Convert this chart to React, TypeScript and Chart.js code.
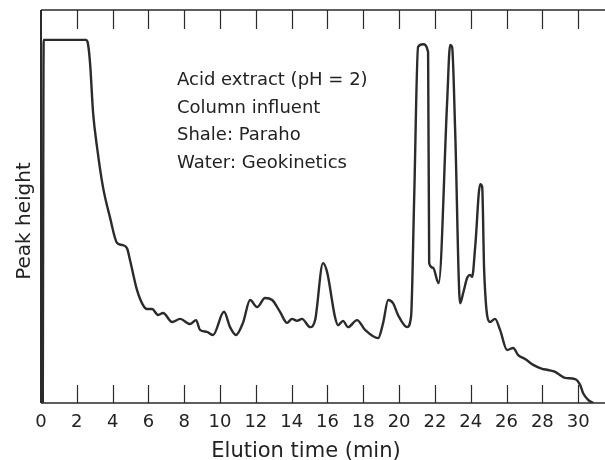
import React, { useEffect, useRef } from 'react';
import { Chart, registerables } from 'chart.js';

Chart.register(...registerables);

// Elution time (min)
const TIME = [
  0.1, 0.15, 2.51, 2.6, 2.74, 2.91, 3.13, 3.46, 3.85, 4.25, 4.53, 4.8, 4.97, 5.36, 5.7, 5.92,
  6.2, 6.54, 6.82, 7.32, 7.77, 8.32, 8.66, 8.88, 9.27, 9.61, 10.22, 10.56, 10.89, 11.28, 11.68,
  12.07, 12.51, 12.91, 13.35, 13.74, 14.02, 14.3, 14.58, 15.03, 15.31, 15.75, 15.98, 16.42,
  16.59, 16.87, 17.15, 17.65, 18.1, 18.83, 19.11, 19.39, 19.66, 19.94, 20.45, 20.67, 20.84,
  21.06, 21.34, 21.62, 21.68, 21.9, 22.12, 22.21, 22.68, 22.85, 22.96, 23.13, 23.41, 23.58,
  23.8, 23.97, 24.08, 24.25, 24.53, 24.64, 24.75, 25.08, 25.36, 25.64, 26.03, 26.37, 26.65,
  27.04, 27.49, 27.99, 28.32, 28.72, 28.99, 29.27, 29.83, 30.11, 30.28, 30.56, 30.84,
];

// Peak height (relative units, 0 = baseline, 100 = top of frame)
const SIGNAL = [
  0, 92.4, 92.4, 91.9, 86.5, 73.8, 65.1, 55.0, 47.3, 40.7, 40.2, 39.4, 36.4, 28.8, 24.9, 23.9,
  23.9, 22.4, 22.9, 20.6, 21.4, 20.1, 21.1, 18.6, 18.1, 17.3, 23.2, 19.3, 17.3, 20.4, 26.2,
  24.4, 26.7, 26.2, 23.2, 20.4, 21.4, 20.9, 21.4, 19.3, 21.1, 35.6, 33.3, 21.9,
  19.8, 20.9, 19.3, 21.1, 18.6, 16.5, 20.4, 26.2, 25.4, 22.4, 19.3, 22.1, 51.7,
  90.6, 91.3, 89.3, 35.6, 34.4, 31.3, 30.5, 76.3, 91.1, 90.6, 69.5, 25.4, 28.0,
  31.8, 32.6, 32.1, 39.7, 55.7, 55.0, 33.8, 20.6, 21.4, 18.6, 13.5, 14.0, 12.2,
  11.2, 9.7, 8.7, 8.4, 7.9, 7.1, 6.4, 6.1, 4.6, 2.5, 0.8, 0,
];

const X_TICKS = [0, 2, 4, 6, 8, 10, 12, 14, 16, 18, 20, 22, 24, 26, 28, 30];
const X_MIN = 0;
const X_MAX = 31.5;
const Y_MIN = 0;
const Y_MAX = 100;

const NOTES = ['Acid extract (pH = 2)', 'Column influent', 'Shale: Paraho', 'Water: Geokinetics'];
const X_TITLE = 'Elution time (min)';
const Y_TITLE = 'Peak height';

const FONT = '"DejaVu Sans", "Liberation Sans", sans-serif';
const INK = '#222';

const decor = {
  id: 'decor',
  afterDatasetsDraw(chart: any) {
    const { ctx, chartArea: ca, scales } = chart;
    const x = scales.x;
    ctx.save();
    ctx.strokeStyle = '#2a2a2a';
    ctx.lineCap = 'butt';

    // frame: left, top, bottom
    ctx.lineWidth = 2;
    ctx.beginPath();
    ctx.moveTo(ca.left, ca.top);
    ctx.lineTo(ca.left, ca.bottom);
    ctx.stroke();
    ctx.lineWidth = 1.5;
    ctx.beginPath();
    ctx.moveTo(ca.left, ca.top);
    ctx.lineTo(ca.right, ca.top);
    ctx.moveTo(ca.left, ca.bottom);
    ctx.lineTo(ca.right, ca.bottom);
    ctx.stroke();

    // inward tick marks, bottom and top
    ctx.lineWidth = 1.2;
    ctx.beginPath();
    for (const v of X_TICKS) {
      if (v === X_MIN) continue;
      const px = Math.round(x.getPixelForValue(v)) + 0.5;
      ctx.moveTo(px, ca.bottom);
      ctx.lineTo(px, ca.bottom - 18);
      ctx.moveTo(px, ca.top);
      ctx.lineTo(px, ca.top + 19);
    }
    ctx.stroke();

    // annotation block
    ctx.fillStyle = INK;
    ctx.font = `18px ${FONT}`;
    ctx.textAlign = 'left';
    ctx.textBaseline = 'alphabetic';
    NOTES.forEach((line, i) => {
      ctx.fillText(line, 177, 85 + i * 27.7);
    });

    // x-axis title
    ctx.font = `21px ${FONT}`;
    ctx.textAlign = 'center';
    ctx.fillText(X_TITLE, 306, 457);

    // y-axis title
    ctx.font = `20px ${FONT}`;
    ctx.translate(30, 221);
    ctx.rotate(-Math.PI / 2);
    ctx.fillText(Y_TITLE, 0, 0);
    ctx.restore();
  },
};

export default function App() {
  const ref = useRef<HTMLCanvasElement | null>(null);

  useEffect(() => {
    if (!ref.current) return;
    const chart = new Chart(ref.current, {
      type: 'line',
      data: {
        datasets: [
          {
            data: TIME.map((t, i) => ({ x: t, y: SIGNAL[i] })),
            borderColor: '#2b2b2b',
            borderWidth: 2.4,
            pointRadius: 0,
            fill: false,
            cubicInterpolationMode: 'monotone',
          },
        ],
      },
      options: {
        animation: false,
        responsive: false,
        events: [],
        layout: { padding: { left: 41, top: 10, right: 0, bottom: 0 } },
        plugins: {
          legend: { display: false },
          tooltip: { enabled: false },
          title: { display: false },
        },
        scales: {
          x: {
            type: 'linear',
            min: X_MIN,
            max: X_MAX,
            grid: { display: false, drawTicks: false },
            border: { display: false },
            afterBuildTicks: (s: any) => {
              s.ticks = X_TICKS.map((v) => ({ value: v }));
            },
            afterFit: (s: any) => {
              s.height = 57;
            },
            ticks: {
              autoSkip: false,
              maxRotation: 0,
              minRotation: 0,
              padding: 9,
              color: INK,
              font: { family: FONT, size: 18 },
            },
          },
          y: {
            display: false,
            min: Y_MIN,
            max: Y_MAX,
          },
        },
      },
      plugins: [decor],
    });
    return () => chart.destroy();
  }, []);

  return (
    <div style={{ position: 'fixed', left: 0, top: 0, width: 605, height: 460, background: '#fff' }}>
      <canvas ref={ref} width={605} height={460} style={{ display: 'block' }} />
    </div>
  );
}
